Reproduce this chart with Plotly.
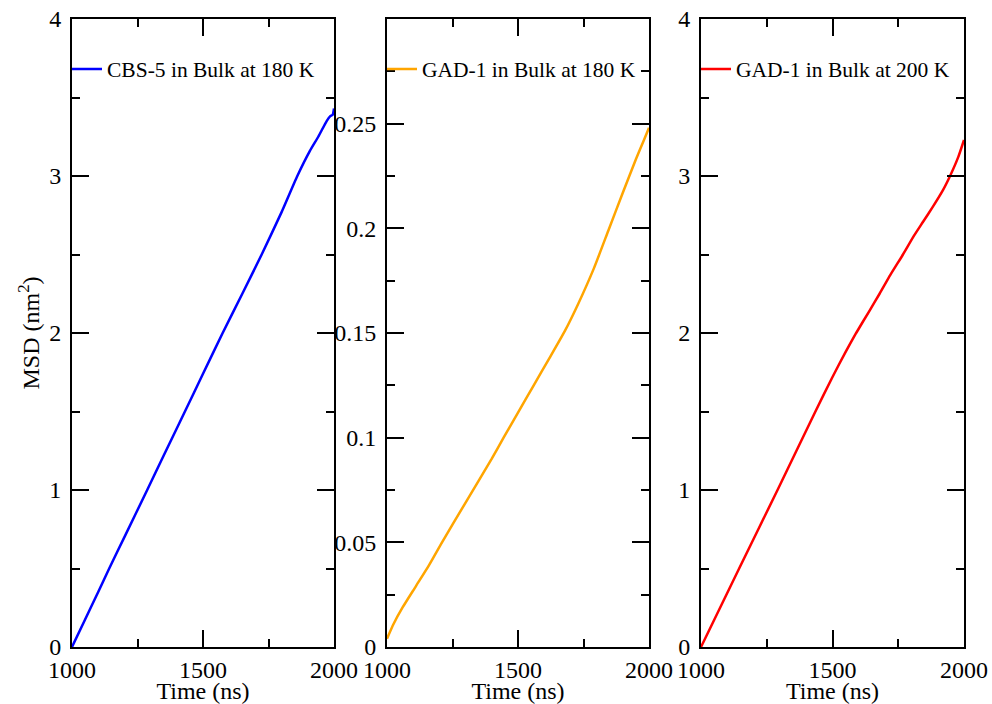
import plotly.graph_objects as go

# MSD curves, time in ns, MSD in nm^2
t_cbs5_180 = [1000, 1050, 1100, 1142, 1200, 1287, 1350, 1431, 1500, 1575, 1650,
              1724, 1800, 1860, 1908, 1940, 1972, 1985, 1995, 2000]
msd_cbs5_180 = [0.0, 0.175, 0.35, 0.50, 0.70, 1.00, 1.22, 1.50, 1.74, 2.00, 2.25,
                2.50, 2.77, 3.00, 3.16, 3.25, 3.35, 3.38, 3.39, 3.43]

t_gad1_180 = [1000, 1025, 1060, 1110, 1160, 1210, 1300, 1400, 1445, 1500, 1560,
              1620, 1679, 1730, 1790, 1845, 1900, 1950, 1980, 2000]
msd_gad1_180 = [0.004, 0.011, 0.019, 0.029, 0.039, 0.050, 0.069, 0.090, 0.100,
                0.112, 0.125, 0.138, 0.151, 0.164, 0.181, 0.199, 0.217, 0.233,
                0.242, 0.248]

t_gad1_200 = [1000, 1145, 1291, 1435, 1500, 1550, 1590, 1640, 1679, 1720, 1768,
              1810, 1845, 1880, 1920, 1947, 1978, 2000]
msd_gad1_200 = [0.0, 0.50, 1.00, 1.50, 1.72, 1.88, 2.00, 2.14, 2.25, 2.37, 2.50,
                2.62, 2.71, 2.80, 2.91, 3.00, 3.12, 3.23]

series_names = ["CBS-5 in Bulk at 180 K", "GAD-1 in Bulk at 180 K", "GAD-1 in Bulk at 200 K"]
series_colors = ["#0000ff", "#ffa500", "#ff0000"]

x_ticks = [1000, 1500, 2000]
y_ticks_msd = [0, 1, 2, 3, 4]
y_ticks_gad180 = [0, 0.05, 0.1, 0.15, 0.2, 0.25]
y_tick_text_gad180 = ["0", "0.05", "0.1", "0.15", "0.2", "0.25"]

FONT = "'Liberation Serif', 'Times New Roman', Tinos, 'DejaVu Serif', serif"

W, H = 992, 704
M_L, M_R, M_T, M_B = 72, 28, 19, 57
PW = W - M_L - M_R
PH = H - M_T - M_B

fig = go.Figure()
data = [(t_cbs5_180, msd_cbs5_180), (t_gad1_180, msd_gad1_180), (t_gad1_200, msd_gad1_200)]
legend_ids = ["legend", "legend2", "legend3"]
for i, ((tx, ty), name, color) in enumerate(zip(data, series_names, series_colors)):
    fig.add_trace(go.Scatter(
        x=tx, y=ty, mode="lines", name=name,
        line=dict(color=color, width=2.5, shape="spline", smoothing=0.5),
        xaxis="x" if i == 0 else f"x{i+1}",
        yaxis="y" if i == 0 else f"y{i+1}",
        legend=legend_ids[i], showlegend=True,
    ))

# panel boxes in pixels, converted to plot-area fractions
x_px = [(72, 334), (387, 649), (701, 964)]
x_domains = [[(a - M_L) / PW, (b - M_L) / PW] for a, b in x_px]

common = dict(
    showline=True, linecolor="black", linewidth=2, mirror="ticks",
    ticks="inside", ticklen=17, tickwidth=1.5, tickcolor="black",
    showgrid=False, zeroline=False, automargin=False,
    tickfont=dict(family=FONT, size=24, color="black"),
)

layout = dict(
    width=W, height=H,
    margin=dict(l=M_L, r=M_R, t=M_T, b=M_B),
    paper_bgcolor="white", plot_bgcolor="white",
    template="none",
    showlegend=True,
    font=dict(family=FONT, color="black"),
)

y_specs = [
    dict(range=[0, 4], tickvals=y_ticks_msd, minor=dict(dtick=0.5, tick0=0)),
    dict(range=[0, 0.3], tickvals=y_ticks_gad180, ticktext=y_tick_text_gad180,
         minor=dict(dtick=0.025, tick0=0)),
    dict(range=[0, 4], tickvals=y_ticks_msd, minor=dict(dtick=0.5, tick0=0)),
]

for i in range(3):
    xk = "xaxis" if i == 0 else f"xaxis{i+1}"
    yk = "yaxis" if i == 0 else f"yaxis{i+1}"
    ya = "y" if i == 0 else f"y{i+1}"
    xa = "x" if i == 0 else f"x{i+1}"
    layout[xk] = dict(
        common, domain=x_domains[i], anchor=ya, range=[1000, 2000],
        tickvals=x_ticks,
        minor=dict(dtick=250, tick0=1000, ticks="inside", ticklen=8,
                   tickwidth=1.5, tickcolor="black"),
        title=dict(text="Time (ns)", font=dict(family=FONT, size=24), standoff=4),
    )
    ys = y_specs[i]
    minor = dict(ys.pop("minor"), ticks="inside", ticklen=8, tickwidth=1.5,
                 tickcolor="black")
    layout[yk] = dict(common, domain=[0, 1], anchor=xa, minor=minor,
                      ticklabelstandoff=4, **ys)

layout["yaxis"]["title"] = dict(text="MSD (nm<sup>2</sup>)",
                                font=dict(family=FONT, size=24), standoff=3)

legend_px = [67, 382, 696]
for i, lid in enumerate(legend_ids):
    layout[lid] = dict(
        x=(legend_px[i] - M_L) / PW, y=(647 - 69) / PH,
        xanchor="left", yanchor="middle",
        bgcolor="rgba(0,0,0,0)", borderwidth=0,
        font=dict(family=FONT, size=21.5, color="black"),
        itemwidth=30,
    )

fig.update_layout(**layout)
fig.write_html("out.html")
